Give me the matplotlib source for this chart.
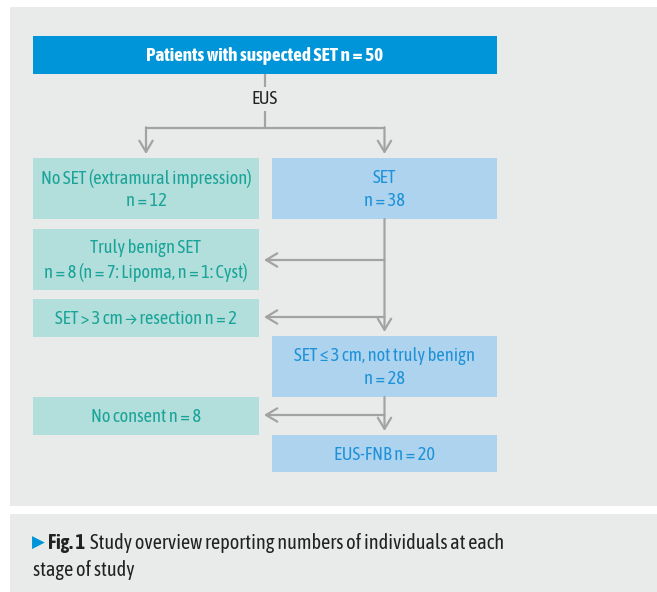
import matplotlib.pyplot as plt
from matplotlib.patches import Rectangle, FancyArrowPatch

# condensed humanist face, fall back to DejaVu for missing glyphs
plt.rcParams['font.family'] = ['Asap Condensed', 'DejaVu Sans']

# flowchart content
top_label = "Patients with suspected SET n = 50"
split_label = "EUS"
left_labels = [
    "No SET (extramural impression)\nn = 12",
    "Truly benign SET\nn = 8 (n = 7: Lipoma, n = 1: Cyst)",
    "SET > 3 cm \u2192 resection n = 2",
    "No consent n = 8",
]
right_labels = [
    "SET\nn = 38",
    "SET \u2264 3 cm, not truly benign\nn = 28",
    "EUS-FNB n = 20",
]
caption_fig = "Fig. 1"
caption_text = ["Study overview reporting numbers of individuals at each",
                "stage of study"]

# box geometry in pixels (x0, y0, x1, y1)
left_boxes = [(33, 158, 259, 219), (33, 229, 259, 290),
              (33, 299, 259, 337), (33, 397, 259, 435)]
right_boxes = [(272, 158, 497, 219), (272, 336, 497, 397),
               (272, 435, 497, 472)]
top_box = (33, 36, 497, 74)

BLUE = "#0095d9"
TEAL_BG = "#b2dedb"
TEAL_TX = "#1aa499"
LBLUE_BG = "#aed3ee"
LBLUE_TX = "#1e92d9"
PANEL = "#e9ebeb"
LINE = "#a3a3a3"

fig = plt.figure(figsize=(6.57, 5.92), dpi=100)
ax = fig.add_axes([0, 0, 1, 1])
ax.set_xlim(0, 657)
ax.set_ylim(592, 0)
ax.axis("off")

# background panels
ax.add_patch(Rectangle((10, 7), 657 - 10, 506 - 7, color=PANEL, lw=0))
ax.add_patch(Rectangle((10, 514), 657 - 10, 592 - 514, color=PANEL, lw=0))


def box(b, fc, tc, label, size=13.2, **kw):
    x0, y0, x1, y1 = b
    ax.add_patch(Rectangle((x0, y0), x1 - x0, y1 - y0, color=fc, lw=0))
    ax.text((x0 + x1) / 2, (y0 + y1) / 2 + 1, label, color=tc, ha="center",
            va="center", fontsize=size, linespacing=1.35, **kw)


box(top_box, BLUE, "white", top_label, size=13.8, fontweight="bold")
for b, lab in zip(left_boxes, left_labels):
    box(b, TEAL_BG, TEAL_TX, lab)
for b, lab in zip(right_boxes, right_labels):
    box(b, LBLUE_BG, LBLUE_TX, lab)


def line(xs, ys):
    ax.plot(xs, ys, color=LINE, lw=1.6, solid_capstyle="butt")


def arrow(p0, p1):
    ax.add_patch(FancyArrowPatch(p0, p1, arrowstyle="->,head_length=5,head_width=3",
                                 color=LINE, lw=1.6, shrinkA=0, shrinkB=0,
                                 mutation_scale=1.6))


cx = (top_box[0] + top_box[2]) / 2
lx = (left_boxes[0][0] + left_boxes[0][2]) / 2
rx = (right_boxes[0][0] + right_boxes[0][2]) / 2

line([cx, cx], [74, 87])
ax.text(cx, 99, split_label, ha="center", va="center", fontsize=13.2, color="#222222")
line([cx, cx], [111, 128])
line([lx, rx], [128, 128])
arrow((lx, 127.2), (lx, 154))
arrow((rx, 127.2), (rx, 154))

# right column trunk
arrow((rx, 219), (rx, 332))
arrow((rx, 260), (264, 260))
arrow((rx, 317), (264, 317))
arrow((rx, 397), (rx, 431))
arrow((rx, 415), (264, 415))

# caption
ax.text(32, 543, "\u25b6", color=BLUE, fontsize=12, ha="left", va="center",
        family="DejaVu Sans")
ax.text(48, 543, caption_fig, fontsize=14.6, fontweight="bold", ha="left",
        va="center", color="#222222")
ax.text(90, 543, caption_text[0], fontsize=14.6, ha="left", va="center",
        color="#222222")
ax.text(33, 570, caption_text[1], fontsize=14.6, ha="left", va="center",
        color="#222222")

fig.savefig("out.png", dpi=100, facecolor="white")
